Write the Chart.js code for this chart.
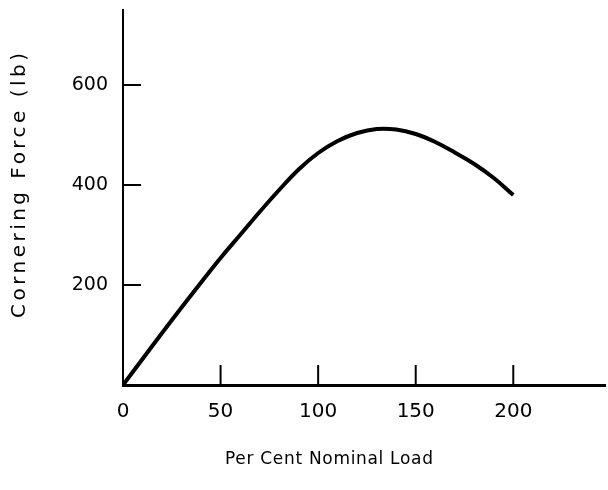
<!DOCTYPE html>
<html>
<head>
<meta charset="utf-8">
<script src="https://cdn.jsdelivr.net/npm/chart.js@4/dist/chart.umd.min.js"></script>
<style>
  html, body { margin: 0; padding: 0; background: #fff; }
  #wrap { width: 608px; height: 490px; position: relative; }
</style>
</head>
<body>
<div id="wrap"><canvas id="c" width="608" height="490"></canvas></div>
<script>
// ---- data ----
const loadPercent = [0, 10, 20, 30, 40, 50, 60, 70, 80, 90, 100, 110, 120, 130, 140, 150, 160, 170, 180, 190, 200];
const corneringForce = [0, 52, 104, 155, 205, 254, 300, 346, 390, 431, 464, 488, 504, 512, 511, 502, 486, 465, 442, 414, 380];
const xTickValues = [0, 50, 100, 150, 200];
const yTickValues = [200, 400, 600];
const xTitle = 'Per Cent Nominal Load';
const yTitle = 'Cornering Force (lb)';

const FONT = '"DejaVu Sans", sans-serif';

function fitText(ctx, text, width) {
  try { ctx.letterSpacing = '0px'; } catch (e) {}
  const w = ctx.measureText(text).width;
  const sp = Math.max(0, (width - w) / (text.length - 1));
  try { ctx.letterSpacing = sp.toFixed(2) + 'px'; } catch (e) {}
}

const innerTicks = {
  id: 'innerTicks',
  afterDraw(chart) {
    const ctx = chart.ctx;
    const xs = chart.scales.x, ys = chart.scales.y;
    const a = chart.chartArea;
    ctx.save();
    ctx.strokeStyle = '#000';
    ctx.lineWidth = 2;
    xTickValues.forEach(v => {
      if (v === 0) return;
      const px = xs.getPixelForValue(v);
      ctx.beginPath(); ctx.moveTo(px, a.bottom); ctx.lineTo(px, a.bottom - 20); ctx.stroke();
    });
    yTickValues.forEach(v => {
      const py = ys.getPixelForValue(v);
      ctx.beginPath(); ctx.moveTo(a.left, py); ctx.lineTo(a.left + 18, py); ctx.stroke();
    });
    // axis titles
    ctx.fillStyle = '#000';
    ctx.textAlign = 'left';
    ctx.textBaseline = 'middle';
    ctx.font = '17px ' + FONT;
    fitText(ctx, xTitle, 208);
    ctx.fillText(xTitle, 225, 460);
    ctx.translate(20, 318);
    ctx.rotate(-Math.PI / 2);
    ctx.font = '20px ' + FONT;
    fitText(ctx, yTitle, 265);
    ctx.fillText(yTitle, 0, 0);
    ctx.restore();
  }
};

new Chart(document.getElementById('c'), {
  type: 'line',
  data: {
    datasets: [{
      data: loadPercent.map((x, i) => ({ x: x, y: corneringForce[i] })),
      borderColor: '#000',
      borderWidth: 4,
      pointRadius: 0,
      fill: false,
      tension: 0.4
    }]
  },
  options: {
    responsive: false,
    animation: false,
    devicePixelRatio: 1,
    layout: { padding: { top: 10, right: 3, left: 0, bottom: 0 } },
    plugins: { legend: { display: false }, tooltip: { enabled: false }, title: { display: false } },
    scales: {
      x: {
        type: 'linear',
        min: 0, max: 247,
        afterFit(s) { s.height = 105; s.paddingLeft = 0; s.paddingRight = 0; },
        afterBuildTicks(s) { s.ticks = xTickValues.map(v => ({ value: v })); },
        grid: { display: false, drawTicks: false },
        border: { display: true, color: '#000', width: 3 },
        ticks: { color: '#000', font: { family: FONT, size: 20 }, padding: 15, maxRotation: 0 }
      },
      y: {
        type: 'linear',
        min: 0, max: 750,
        afterFit(s) { s.width = 123; s.paddingTop = 0; s.paddingBottom = 0; },
        afterBuildTicks(s) { s.ticks = yTickValues.map(v => ({ value: v })); },
        grid: { display: false, drawTicks: false },
        border: { display: true, color: '#000', width: 2 },
        ticks: { color: '#000', font: { family: FONT, size: 19 }, padding: 15 }
      }
    }
  },
  plugins: [innerTicks]
});
</script>
</body>
</html>
